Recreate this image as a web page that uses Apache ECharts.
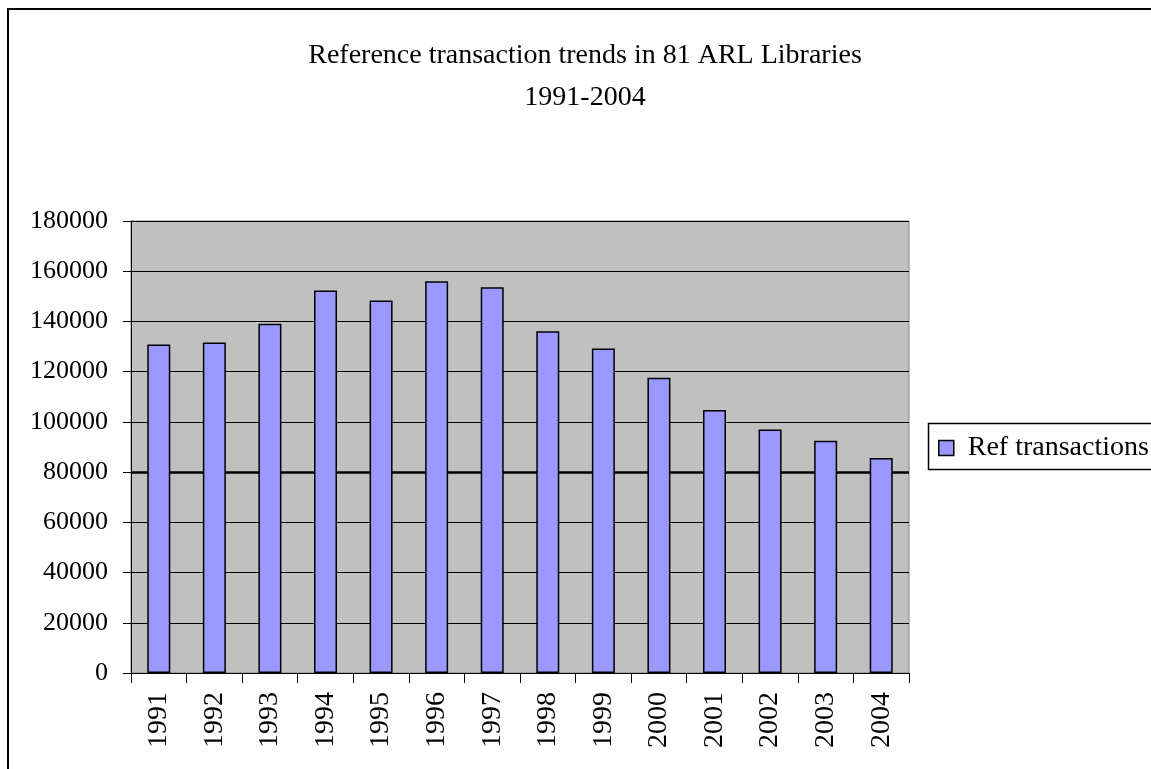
<!DOCTYPE html>
<html>
<head>
<meta charset="utf-8">
<title>Reference transaction trends</title>
<script src="https://cdn.jsdelivr.net/npm/echarts@6/dist/echarts.min.js"></script>
<style>
  html, body { margin: 0; padding: 0; background: #fff; }
  #chart { width: 1151px; height: 769px; }
</style>
</head>
<body>
<div id="chart"></div>
<script>
// data
const years = ["1991", "1992", "1993", "1994", "1995", "1996", "1997",
  "1998", "1999", "2000", "2001", "2002", "2003", "2004"];
const refTransactions = [130800, 131600, 139100, 152300, 148300, 156000, 153600,
  136100, 129200, 117600, 104700, 97000, 92500, 85600];
const seriesName = "Ref transactions";
const titleLines = ["Reference transaction trends in 81 ARL Libraries", "1991-2004"];
const yMin = 0;
const yMax = 180000;
const yStep = 20000;
const heavyGridLine = 80000; // drawn thicker in the original

const font = "Liberation Serif";
const chart = echarts.init(document.getElementById("chart"));

const option = {
  animation: false,
  backgroundColor: "#ffffff",
  title: {
    text: titleLines.join("\n"),
    left: 585,
    top: 35,
    padding: 0,
    textAlign: "center",
    textStyle: {
      fontFamily: font,
      fontSize: 28,
      fontWeight: "normal",
      color: "#000",
      lineHeight: 42,
    },
  },
  legend: {
    data: [seriesName],
    left: 938,
    top: 434,
    padding: 0,
    icon: "rect",
    itemWidth: 15,
    itemHeight: 15,
    itemStyle: { color: "#9999ff", borderColor: "#000", borderWidth: 1.5 },
    textStyle: {
      fontFamily: font,
      fontSize: 28,
      color: "#000",
      padding: [0, 0, 0, 9],
    },
  },
  // chart frame and legend box
  graphic: [
    {
      type: "rect",
      z: 0,
      shape: { x: 8, y: 9, width: 1300, height: 900 },
      style: { fill: "none", stroke: "#000", lineWidth: 2 },
    },
    {
      type: "rect",
      z: 0,
      shape: { x: 928.5, y: 423.5, width: 300, height: 46 },
      style: { fill: "none", stroke: "#000", lineWidth: 1.5 },
    },
  ],
  grid: {
    left: 131,
    right: 242,
    top: 221,
    bottom: 96,
    show: true,
    backgroundColor: "#c0c0c0",
    borderColor: "#808080",
    borderWidth: 1,
  },
  xAxis: {
    type: "category",
    data: years,
    boundaryGap: true,
    axisLine: { show: true, lineStyle: { color: "#000", width: 1 } },
    axisTick: { show: true, length: 10, interval: 0, lineStyle: { color: "#000" } },
    axisLabel: {
      interval: 0,
      rotate: 90,
      margin: 19,
      fontFamily: font,
      fontSize: 28,
      color: "#000",
    },
  },
  yAxis: {
    type: "value",
    min: yMin,
    max: yMax,
    interval: yStep,
    axisLine: { show: true, lineStyle: { color: "#000", width: 1 } },
    axisTick: { show: true, length: 8, lineStyle: { color: "#000" } },
    axisLabel: {
      margin: 23,
      fontFamily: font,
      fontSize: 26,
      color: "#000",
      formatter: (v) => String(v),
    },
    splitLine: { show: true, lineStyle: { color: "#000", width: 1 } },
  },
  series: [
    {
      name: seriesName,
      type: "bar",
      data: refTransactions,
      barWidth: 23,
      itemStyle: {
        color: "#9999ff",
        borderColor: "#000",
        borderWidth: 1.5,
      },
      markLine: {
        silent: true,
        z: 1,
        symbol: "none",
        label: { show: false },
        lineStyle: { color: "#000", width: 2.5, type: "solid" },
        data: [{ yAxis: heavyGridLine }],
      },
    },
  ],
};
chart.setOption(option);
</script>
</body>
</html>
